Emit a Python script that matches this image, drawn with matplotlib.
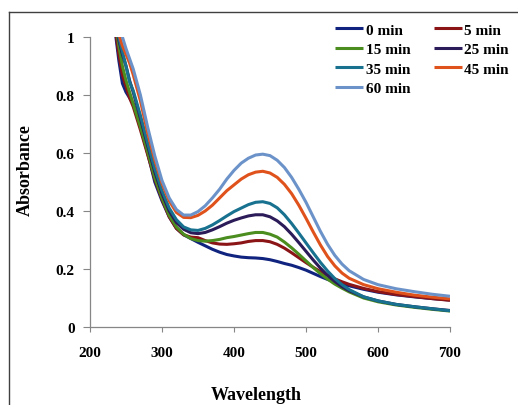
import matplotlib
matplotlib.use("Agg")
from matplotlib import pyplot as plt
from matplotlib.lines import Line2D
from matplotlib.ticker import FuncFormatter, MultipleLocator

# wavelength grid (nm) shared by all spectra
wavelength = [235, 240, 245, 250, 255, 260, 270, 280, 290, 300, 310, 320, 330, 340,
              350, 360, 370, 380, 390, 400, 410, 420, 430, 440, 450, 460, 470, 480,
              490, 500, 510, 520, 530, 540, 550, 560, 580, 600, 625, 650, 675, 700]

abs_0 = [1.02, 0.92, 0.84, 0.81, 0.79, 0.77, 0.69, 0.60, 0.50, 0.435, 0.38, 0.34, 0.318, 0.305,
         0.292, 0.28, 0.268, 0.258, 0.25, 0.245, 0.241, 0.239, 0.238, 0.236, 0.232, 0.226, 0.219, 0.213,
         0.205, 0.196, 0.185, 0.174, 0.164, 0.156, 0.149, 0.142, 0.13, 0.12, 0.111, 0.104, 0.098, 0.093]
abs_5 = [1.03, 0.94, 0.87, 0.83, 0.79, 0.76, 0.68, 0.595, 0.51, 0.44, 0.38, 0.34, 0.318, 0.31,
         0.308, 0.298, 0.29, 0.286, 0.285, 0.287, 0.29, 0.295, 0.298, 0.298, 0.294, 0.285, 0.272, 0.256,
         0.239, 0.222, 0.206, 0.191, 0.178, 0.166, 0.156, 0.147, 0.133, 0.122, 0.112, 0.105, 0.098, 0.092]
abs_15 = [1.05, 0.97, 0.90, 0.85, 0.81, 0.77, 0.69, 0.605, 0.515, 0.445, 0.385, 0.345, 0.32, 0.305,
          0.298, 0.296, 0.298, 0.302, 0.308, 0.312, 0.317, 0.322, 0.326, 0.326, 0.32, 0.31, 0.293, 0.273,
          0.251, 0.228, 0.205, 0.184, 0.165, 0.148, 0.134, 0.121, 0.10, 0.087, 0.076, 0.068, 0.061, 0.055]
abs_25 = [1.07, 0.99, 0.94, 0.90, 0.85, 0.81, 0.72, 0.625, 0.535, 0.46, 0.40, 0.36, 0.337, 0.325,
          0.322, 0.326, 0.335, 0.346, 0.358, 0.368, 0.376, 0.383, 0.387, 0.387, 0.38, 0.366, 0.346, 0.32,
          0.291, 0.261, 0.231, 0.203, 0.178, 0.157, 0.139, 0.125, 0.104, 0.09, 0.078, 0.07, 0.063, 0.057]
abs_35 = [1.08, 1.00, 0.95, 0.90, 0.845, 0.815, 0.73, 0.635, 0.545, 0.47, 0.41, 0.37, 0.345, 0.335,
          0.333, 0.34, 0.352, 0.367, 0.383, 0.398, 0.41, 0.422, 0.43, 0.432, 0.426, 0.411, 0.387, 0.357,
          0.324, 0.29, 0.256, 0.223, 0.193, 0.167, 0.146, 0.129, 0.104, 0.09, 0.078, 0.07, 0.063, 0.056]
abs_45 = [1.10, 1.01, 0.97, 0.94, 0.91, 0.87, 0.78, 0.67, 0.575, 0.495, 0.435, 0.395, 0.378, 0.377,
          0.385, 0.40, 0.42, 0.445, 0.47, 0.49, 0.51, 0.525, 0.534, 0.537, 0.531, 0.516, 0.492, 0.46,
          0.42, 0.375, 0.328, 0.283, 0.243, 0.211, 0.186, 0.168, 0.146, 0.132, 0.12, 0.11, 0.103, 0.097]
abs_60 = [1.12, 1.06, 1.00, 0.96, 0.925, 0.89, 0.80, 0.69, 0.59, 0.505, 0.445, 0.405, 0.386, 0.386,
          0.398, 0.418, 0.445, 0.475, 0.51, 0.54, 0.565, 0.582, 0.593, 0.596, 0.591, 0.575, 0.55, 0.516,
          0.475, 0.43, 0.38, 0.33, 0.285, 0.247, 0.217, 0.194, 0.164, 0.146, 0.132, 0.122, 0.113, 0.106]

series = [
    ("0 min", abs_0, "#10237e"),
    ("5 min", abs_5, "#8a1416"),
    ("15 min", abs_15, "#4b8d1f"),
    ("25 min", abs_25, "#2b1b58"),
    ("35 min", abs_35, "#17718f"),
    ("45 min", abs_45, "#e0521c"),
    ("60 min", abs_60, "#6c93c9"),
]

plt.rcParams["font.family"] = ["Liberation Serif", "DejaVu Serif"]
plt.rcParams["font.weight"] = "bold"

fig = plt.figure(figsize=(5.18, 4.06), dpi=100)
ax = fig.add_axes([90 / 518, 1 - 328 / 406, 360 / 518, 290 / 406])

handles = {}
for name, vals, col in series:
    (ln,) = ax.plot(wavelength, vals, color=col, lw=2.2, label=name, solid_capstyle="butt")
    handles[name] = ln

ax.set_xlim(200, 700)
ax.set_ylim(0, 1)
ax.xaxis.set_major_locator(MultipleLocator(100))
ax.yaxis.set_major_locator(MultipleLocator(0.2))
ax.yaxis.set_major_formatter(FuncFormatter(lambda v, p: "%g" % round(v, 2)))

for s in ["top", "right"]:
    ax.spines[s].set_visible(False)
for s in ["left", "bottom"]:
    ax.spines[s].set_color("#868686")
    ax.spines[s].set_linewidth(0.9)
ax.tick_params(axis="x", direction="out", length=3.5, color="#868686", pad=10, labelsize=11)
ax.tick_params(axis="y", direction="out", length=5, color="#868686", pad=6, labelsize=11)

fig.text(256 / 518, 1 - 396 / 406, "Wavelength", ha="center", va="center", fontsize=13, fontweight="bold")
fig.text(25 / 518, 1 - 170 / 406, "Absorbance", ha="center", va="center", rotation=90,
         fontsize=13, fontweight="bold")

order = ["0 min", "15 min", "35 min", "60 min", "5 min", "25 min", "45 min"]
ax.legend([handles[k] for k in order], order, ncol=2, frameon=False,
          loc="upper left", bbox_to_anchor=(335 / 518, 1 - 24 / 406),
          bbox_transform=fig.transFigure, borderpad=0, borderaxespad=0,
          handlelength=1.85, handletextpad=0.15, columnspacing=1.55, labelspacing=0.38,
          prop={"size": 11, "weight": "bold"})

# image frame lines (top and left)
fig.add_artist(Line2D([9 / 518, 1], [1 - 13 / 406, 1 - 13 / 406], color="#404040", lw=1))
fig.add_artist(Line2D([9 / 518, 9 / 518], [0, 1 - 13 / 406], color="#404040", lw=1))

fig.savefig("out.png", dpi=100)
